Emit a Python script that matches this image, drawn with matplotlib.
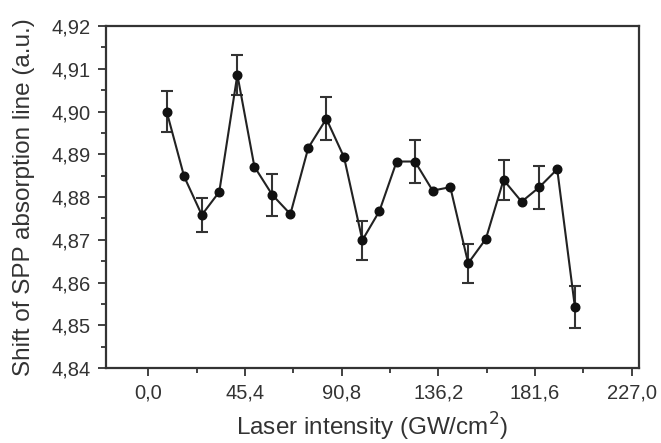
import matplotlib
matplotlib.use("Agg")
import matplotlib.pyplot as plt
import numpy as np

intensity = [8.6, 16.8, 25.1, 33.3, 41.8, 49.8, 58.2, 66.7, 75.1, 83.6, 91.9, 100.5,
             108.5, 116.6, 125.2, 133.5, 141.8, 150.2, 158.5, 166.8, 175.3, 183.6, 192.0, 200.3]
shift = [4.9000, 4.8848, 4.8758, 4.8812, 4.9086, 4.8871, 4.8805, 4.8760, 4.8915, 4.8983, 4.8893, 4.8699,
         4.8767, 4.8883, 4.8883, 4.8815, 4.8823, 4.8645, 4.8702, 4.8840, 4.8789, 4.8823, 4.8865, 4.8543]
err = [0.0049, 0, 0.0040, 0, 0.0047, 0, 0.0049, 0, 0, 0.0050, 0, 0.0046,
       0, 0, 0.0050, 0, 0, 0.0045, 0, 0.0047, 0, 0.0050, 0, 0.0049]
xticks = [0.0, 45.4, 90.8, 136.2, 181.6, 227.0]
yticks = [4.84, 4.85, 4.86, 4.87, 4.88, 4.89, 4.90, 4.91, 4.92]

plt.rcParams['font.family'] = ['Liberation Sans', 'DejaVu Sans']

fig = plt.figure(figsize=(6.61, 4.43), dpi=100)
ax = fig.add_axes([0.160, 0.1693, 0.807, 0.772])

x = np.array(intensity)
y = np.array(shift)
e = np.array(err)
mask = e > 0
ax.errorbar(x[mask], y[mask], yerr=e[mask], fmt='none', ecolor='#333333',
            elinewidth=1.5, capsize=4, capthick=1.5, zorder=2)
ax.plot(x, y, '-', color='#222222', lw=1.5, zorder=3)
ax.plot(x, y, 'o', color='#111111', ms=6.2, zorder=4)

ax.set_xlim(-20, 230.5)
ax.set_ylim(4.84, 4.92)
ax.set_xticks(xticks)
ax.set_xticklabels([f"{v:.1f}".replace('.', ',') for v in xticks])
ax.set_yticks(yticks)
ax.set_yticklabels([f"{v:.2f}".replace('.', ',') for v in yticks])
ax.set_xticks([22.7, 68.1, 113.5, 158.9, 204.3], minor=True)
ax.set_yticks(np.arange(4.845, 4.92, 0.01), minor=True)

for s in ax.spines.values():
    s.set_linewidth(1.6)
    s.set_color('#333333')
ax.tick_params(which='major', direction='out', length=6, width=1.3, color='#333333',
               labelsize=14.5, labelcolor='#333333', pad=5)
ax.tick_params(which='minor', direction='out', length=3.5, width=1.3, color='#333333')

ax.set_xlabel('Laser intensity (GW/cm$^2$)', fontsize=17.5, color='#333333', labelpad=6)
ax.set_ylabel('Shift of SPP absorption line (a.u.)', fontsize=17.5, color='#333333', labelpad=12)

fig.savefig('out.png', dpi=100)
